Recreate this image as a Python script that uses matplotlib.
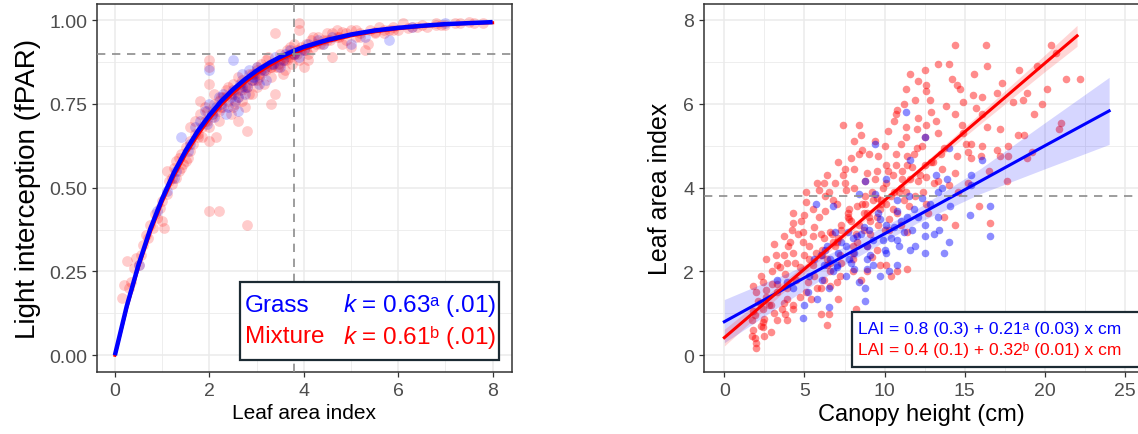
import matplotlib
matplotlib.use("Agg")
import matplotlib.pyplot as plt
from matplotlib.patches import Rectangle
from matplotlib.ticker import MultipleLocator, FormatStrFormatter

plt.rcParams['font.family'] = ['Liberation Sans', 'DejaVu Sans']
plt.rcParams['mathtext.fontset'] = 'custom'
plt.rcParams['mathtext.rm'] = 'Liberation Sans'
plt.rcParams['mathtext.it'] = 'Liberation Sans:italic'

# ---- left panel: light interception vs LAI ----
mix_lai = [0.15, 0.2, 0.25, 0.3, 0.35, 0.4, 0.45, 0.5, 0.55, 0.6, 0.65, 0.7, 0.75, 0.8, 0.85,
           0.9, 0.95, 1.0, 1.05, 1.0, 1.1, 1.1, 1.15, 1.2, 1.25, 1.3, 1.3, 1.35, 1.4, 1.45,
           1.5, 1.55, 1.6, 1.6, 1.65, 1.7, 1.75, 1.8, 1.8, 1.85, 1.9, 1.95, 2.0, 2.0, 2.0,
           2.0, 2.0, 2.0, 2.05, 2.1, 2.15, 2.2, 2.2, 2.25, 2.3, 2.35, 2.4, 2.45, 2.5, 2.5,
           2.55, 2.6, 2.6, 2.65, 2.7, 2.7, 2.75, 2.8, 2.8, 2.8, 2.85, 2.9, 2.95, 3.0, 3.0,
           3.05, 3.1, 3.15, 3.2, 3.25, 3.3, 3.3, 3.35, 3.4, 3.4, 3.45, 3.5, 3.55, 3.6, 3.65,
           3.7, 3.75, 3.8, 3.85, 3.9, 3.9, 3.9, 3.95, 4.0, 4.05, 4.1, 4.15, 4.2, 4.3, 4.4,
           4.5, 4.6, 4.6, 4.7, 4.8, 4.9, 5.0, 5.0, 5.1, 5.2, 5.3, 5.35, 5.4, 5.5, 5.6,
           5.7, 5.8, 5.9, 6.0, 6.1, 6.3, 6.5, 6.6, 6.8, 7.0, 7.2, 7.5, 7.6,
           2.1, 2.2, 2.3, 2.4, 2.5, 2.6, 2.75, 2.9, 3.0, 3.1, 3.2, 3.4, 3.5, 3.6, 3.7,
           3.8, 4.0, 4.2, 4.4, 4.5, 3.0, 3.3, 2.2, 1.9, 1.7, 1.5, 1.35, 4.7, 4.9, 5.1,
           5.7, 6.2, 6.8, 2.85, 3.55, 4.8, 4.1, 3.65, 3.75,
           1.2, 1.4, 1.6, 1.75, 1.85, 1.95, 2.05, 2.15, 2.25, 2.35, 2.45, 2.55, 2.65, 2.7,
           2.8, 2.9, 2.95, 3.05, 3.15, 3.2, 3.3, 3.45, 3.5, 3.6, 3.7, 3.8, 3.85, 3.95, 4.05,
           4.25, 4.35, 4.55, 4.75, 5.2, 5.5, 5.9, 6.4, 6.9, 7.3, 7.8]
mix_fpar = [0.17, 0.21, 0.28, 0.2, 0.22, 0.26, 0.29, 0.27, 0.3, 0.33, 0.36, 0.35, 0.39, 0.38, 0.42,
            0.41, 0.44, 0.46, 0.38, 0.4, 0.48, 0.55, 0.52, 0.51, 0.56, 0.53, 0.58, 0.55, 0.6, 0.57,
            0.62, 0.59, 0.64, 0.68, 0.63, 0.7, 0.66, 0.72, 0.76, 0.65, 0.7, 0.73, 0.64, 0.68, 0.81,
            0.86, 0.88, 0.43, 0.72, 0.75, 0.65, 0.43, 0.7, 0.77, 0.74, 0.79, 0.76, 0.72, 0.78, 0.81,
            0.75, 0.7, 0.83, 0.79, 0.76, 0.82, 0.74, 0.39, 0.67, 0.8, 0.84, 0.78, 0.82, 0.85, 0.8,
            0.83, 0.87, 0.81, 0.85, 0.89, 0.75, 0.83, 0.87, 0.78, 0.96, 0.86, 0.9, 0.88, 0.85, 0.91,
            0.89, 0.87, 0.93, 0.9, 0.99, 0.97, 0.88, 0.92, 0.86, 0.93, 0.9, 0.94, 0.92, 0.95, 0.93,
            0.94, 0.89, 0.96, 0.95, 0.93, 0.96, 0.92, 0.97, 0.95, 0.96, 0.91, 0.93, 0.97, 0.96, 0.98,
            0.96, 0.97, 0.98, 0.97, 0.99, 0.98, 0.985, 0.98, 0.99, 0.985, 0.99, 0.995, 0.99,
            0.78, 0.73, 0.77, 0.8, 0.74, 0.77, 0.8, 0.84, 0.82, 0.84, 0.88, 0.86, 0.87, 0.89, 0.92,
            0.9, 0.91, 0.95, 0.94, 0.96, 0.86, 0.86, 0.76, 0.74, 0.66, 0.58, 0.59, 0.97, 0.94, 0.97,
            0.97, 0.975, 0.985, 0.78, 0.84, 0.965, 0.88, 0.88, 0.9,
            0.53, 0.56, 0.61, 0.65, 0.68, 0.7, 0.71, 0.73, 0.74, 0.77, 0.78, 0.78, 0.8, 0.79,
            0.81, 0.82, 0.84, 0.84, 0.85, 0.86, 0.86, 0.87, 0.88, 0.88, 0.9, 0.9, 0.91, 0.91, 0.91,
            0.93, 0.93, 0.94, 0.95, 0.95, 0.965, 0.97, 0.98, 0.985, 0.99, 0.99]

grass_lai = [0.5, 0.9, 1.1, 1.3, 1.4, 1.55, 1.7, 1.8, 1.9, 2.0, 2.0, 2.1, 2.2, 2.3, 2.4, 2.5,
             2.5, 2.6, 2.65, 2.7, 2.8, 2.9, 3.0, 3.1, 3.2, 3.3, 3.4, 3.5, 3.6, 3.7, 3.9, 4.1,
             4.3, 4.6, 5.0, 5.3, 5.8, 6.3, 7.0, 2.35, 2.6, 1.95, 2.15, 2.55, 2.75, 2.85, 3.05,
             1.6, 2.05, 2.25, 2.45, 2.7, 2.95, 3.15, 3.35, 3.55, 3.8, 4.0, 4.4, 1.25, 2.9]
grass_fpar = [0.27, 0.43, 0.49, 0.55, 0.65, 0.61, 0.68, 0.7, 0.73, 0.85, 0.75, 0.71, 0.77, 0.78, 0.74, 0.88,
              0.79, 0.77, 0.81, 0.84, 0.8, 0.83, 0.86, 0.85, 0.82, 0.87, 0.89, 0.86, 0.9, 0.91, 0.89, 0.93,
              0.94, 0.95, 0.93, 0.95, 0.94, 0.98, 0.99, 0.72, 0.73, 0.69, 0.74, 0.76, 0.78, 0.85, 0.81,
              0.63, 0.72, 0.75, 0.77, 0.8, 0.83, 0.85, 0.87, 0.88, 0.9, 0.91, 0.93, 0.53, 0.82]

# fitted curves (k = 0.63 grass, k = 0.61 mixture)
fit_lai = [0, 0.25, 0.5, 0.75, 1.0, 1.25, 1.5, 1.75, 2.0, 2.25, 2.5, 2.75, 3.0, 3.25, 3.5,
           3.75, 4.0, 4.5, 5.0, 5.5, 6.0, 6.5, 7.0, 7.5, 8.0]
fit_grass = [0, 0.146, 0.270, 0.377, 0.467, 0.545, 0.611, 0.668, 0.716, 0.758, 0.793, 0.823,
             0.849, 0.871, 0.890, 0.906, 0.920, 0.941, 0.957, 0.969, 0.977, 0.983, 0.988, 0.991, 0.994]
fit_mix = [0, 0.141, 0.263, 0.367, 0.457, 0.534, 0.600, 0.656, 0.705, 0.747, 0.782, 0.813,
           0.840, 0.862, 0.882, 0.899, 0.913, 0.936, 0.953, 0.965, 0.974, 0.981, 0.986, 0.990, 0.992]

# ---- right panel: LAI vs canopy height ----
red_h = [14.4, 16.3, 20.4, 13.3, 14.0, 12.5, 11.6, 15.6, 12.1, 12.6, 11.3, 12.6, 14.5, 14.7, 18.4,
         20.1, 22.2, 18.9, 17.0, 15.5, 16.1, 11.9, 11.2, 13.8, 14.9, 19.8, 18.0, 19.3, 10.8, 10.7,
         12.1, 12.9, 14.4, 16.1, 7.4, 8.4, 10.2, 11.3, 12.6, 17.2, 16.4, 8.5, 12.5, 13.3, 14.9,
         18.3, 18.7, 21.0, 20.9, 15.1, 17.7, 15.4, 17.0, 16.1, 8.1, 10.0, 11.0, 12.0, 13.7, 8.4,
         9.0, 9.6, 10.7, 11.4, 14.5, 15.2, 15.4, 17.2, 17.7, 19.2, 18.9, 7.1, 7.5, 8.1, 8.9,
         9.5, 10.1, 10.7, 11.4, 12.5, 13.0, 13.6, 14.4, 16.5, 17.6, 6.4, 5.8, 6.2, 6.9, 7.5,
         8.1, 8.8, 9.4, 10.1, 11.1, 12.1, 12.6, 13.3, 14.0, 15.2, 5.1, 5.9, 6.5, 7.6, 8.8,
         9.5, 10.6, 11.3, 11.9, 14.6, 15.9, 5.1, 6.3, 7.0, 7.8, 8.3, 8.9, 9.7, 10.1, 10.8,
         11.5, 12.6, 13.7, 14.4, 16.6, 4.3, 5.0, 4.3, 4.9, 5.6, 6.0, 6.6, 7.3, 7.8, 8.4,
         9.1, 10.0, 10.3, 11.4, 3.7, 4.1, 4.9, 5.5, 6.2, 6.9, 8.0, 8.9, 9.5, 3.1, 2.6,
         3.7, 4.3, 5.0, 5.7, 6.4, 7.2, 8.0, 9.2, 10.1, 10.8, 11.4, 3.3, 3.9, 4.7, 5.5,
         6.4, 7.2, 8.0, 8.9, 9.7, 10.4, 2.3, 3.0, 3.8, 4.5, 5.2, 6.2, 7.0, 8.5, 1.8,
         2.4, 3.3, 3.9, 5.1, 5.8, 6.6, 2.0, 2.6, 3.3, 3.9, 4.7, 5.4, 2.2, 2.9, 3.7,
         4.3, 7.1, 1.8, 2.4, 3.1, 3.8, 4.3, 6.0, 6.5, 8.2, 1.75, 2.4, 3.3, 3.9, 6.4,
         1.8, 2.4, 2.9, 1.9, 2.0, 2.0, 2.5, 1.7, 2.5, 16.0,
         7.7, 8.6, 9.2, 9.9, 10.5, 11.1, 11.8, 12.3, 6.8, 7.3, 9.0, 9.8, 10.9, 11.6, 12.9,
         6.1, 6.7, 7.9, 8.7, 9.3, 10.4, 11.0, 12.2, 5.3, 7.0, 8.2, 9.6, 10.5, 13.1,
         1.9, 2.1, 2.3, 2.6, 2.8, 3.0, 3.2, 3.5, 3.6, 4.0, 4.2, 4.4, 4.6, 4.8, 5.3,
         5.5, 5.9, 6.1, 6.3, 6.6, 6.8, 7.1, 7.4, 7.7, 7.9, 8.3, 8.6, 8.8, 9.1, 9.4,
         9.8, 10.2, 10.6, 11.0, 11.3, 11.7, 12.0, 12.4, 12.8, 13.2, 13.5, 14.2, 14.8, 15.7, 16.4,
         17.3, 18.6, 19.5, 20.7, 21.3, 5.6, 6.0, 6.6, 7.3, 8.0, 8.7, 9.5, 10.3, 11.2, 12.7]
red_lai = [7.4, 7.4, 7.4, 6.95, 6.95, 6.8, 6.7, 6.7, 6.55, 6.45, 6.35, 6.3, 6.45, 6.35, 6.8,
           6.35, 6.6, 6.25, 6.25, 6.2, 6.15, 6.1, 6.0, 5.95, 6.05, 6.0, 6.05, 5.75, 5.85, 5.75,
           5.65, 5.8, 5.75, 5.75, 5.5, 5.5, 5.35, 5.45, 5.5, 5.4, 5.45, 5.25, 5.2, 5.3, 5.3,
           5.25, 5.25, 5.55, 5.4, 5.05, 5.0, 5.05, 4.9, 5.0, 5.1, 5.0, 5.05, 4.95, 4.95, 4.8,
           4.8, 4.75, 4.8, 4.75, 4.75, 4.85, 4.7, 4.75, 4.75, 4.85, 4.7, 4.6, 4.45, 4.45, 4.35,
           4.4, 4.55, 4.55, 4.55, 4.55, 4.6, 4.45, 4.35, 4.4, 4.15, 4.3, 4.1, 4.1, 4.1, 4.1,
           4.0, 4.15, 4.2, 4.1, 4.2, 4.15, 4.25, 4.15, 4.05, 4.1, 3.9, 3.95, 3.9, 3.95, 3.8,
           3.75, 3.9, 3.9, 3.8, 3.9, 3.55, 3.65, 3.45, 3.6, 3.5, 3.55, 3.4, 3.5, 3.6, 3.4,
           3.55, 3.6, 3.3, 3.1, 3.15, 3.4, 3.35, 3.15, 2.95, 3.05, 2.9, 2.95, 3.0, 3.25, 3.1,
           3.2, 3.0, 3.25, 2.95, 2.85, 2.7, 2.7, 2.85, 2.8, 2.6, 2.6, 2.6, 2.5, 2.65, 2.3,
           2.4, 2.45, 2.4, 2.45, 2.3, 2.4, 2.3, 2.35, 2.15, 2.0, 2.05, 2.15, 2.2, 2.1, 2.15,
           2.15, 1.9, 2.0, 2.0, 2.15, 1.9, 1.9, 2.0, 1.95, 1.8, 1.75, 1.8, 1.75, 1.8, 1.65,
           1.75, 1.7, 1.6, 1.5, 1.6, 1.65, 1.5, 1.4, 1.5, 1.35, 1.4, 1.35, 1.25, 1.2, 1.25,
           1.2, 1.35, 1.05, 1.1, 1.0, 0.98, 1.1, 0.98, 0.98, 1.1, 0.83, 0.8, 0.83, 0.83, 0.72,
           0.6, 0.67, 0.55, 0.4, 0.3, 0.17, 0.47, 0.47, 0.87, 4.75,
           3.3, 3.6, 3.9, 4.0, 4.3, 4.4, 4.8, 5.0, 2.7, 3.1, 3.3, 3.6, 3.9, 4.2, 4.6,
           2.5, 2.9, 3.2, 3.4, 3.7, 3.8, 4.0, 4.3, 2.3, 2.7, 2.9, 3.1, 3.5, 4.1,
           0.95, 1.3, 0.7, 1.55, 1.2, 1.7, 2.4, 2.1, 1.1, 2.6, 3.0, 2.2, 2.9, 3.2, 2.6,
           3.5, 3.3, 2.4, 3.8, 2.2, 3.7, 2.8, 4.3, 3.4, 4.7, 2.7, 4.9, 3.6, 2.9, 5.1,
           3.7, 4.4, 5.6, 3.1, 5.2, 4.5, 5.4, 3.9, 6.1, 5.6, 4.8, 6.6, 5.5, 5.9, 6.9,
           6.5, 6.1, 6.9, 7.2, 6.6, 1.9, 1.6, 2.0, 2.2, 2.45, 3.0, 3.3, 3.0, 3.7, 3.4]

blue_h = [11.3, 9.4, 12.5, 14.0, 11.6, 16.1, 8.8, 10.1, 13.2, 13.9, 15.4, 13.6, 5.7, 6.8, 8.4,
          9.4, 10.8, 11.5, 12.3, 13.3, 14.1, 15.4, 15.3, 16.6, 16.6, 13.3, 13.4, 12.5, 12.5, 11.9,
          11.6, 12.5, 13.7, 14.0, 11.2, 10.6, 10.1, 9.9, 10.1, 10.8, 10.3, 9.7, 8.9, 8.9, 8.3,
          8.1, 7.6, 7.1, 6.9, 6.4, 6.2, 6.8, 7.6, 8.4, 8.8, 8.8, 6.5, 5.8, 5.0, 4.9,
          6.5, 5.6, 7.8, 8.9, 9.3, 9.7, 10.8, 11.4, 11.8, 10.8, 7.7, 8.7, 5.2, 4.3, 3.9,
          3.3, 7.0, 6.0, 9.3, 8.1,
          5.3, 6.1, 6.6, 7.3, 7.9, 8.5, 9.1, 9.6, 10.4, 10.9, 11.7, 12.1, 12.8, 13.1, 7.0,
          8.0, 9.0, 10.0, 11.0, 6.3]
blue_lai = [5.8, 5.05, 5.2, 4.95, 4.65, 4.65, 4.15, 4.2, 4.3, 4.2, 4.3, 4.0, 3.6, 3.55, 3.85,
            3.85, 3.7, 3.8, 3.75, 3.9, 3.55, 4.05, 3.35, 3.55, 2.85, 3.3, 3.0, 3.1, 2.85, 2.6,
            2.5, 2.45, 2.45, 2.7, 2.95, 3.05, 3.1, 2.75, 2.45, 2.15, 2.0, 1.9, 2.3, 2.6, 2.85,
            2.45, 2.6, 2.45, 2.95, 2.6, 2.15, 2.0, 1.9, 1.75, 1.6, 1.3, 1.6, 1.35, 1.2, 0.9,
            1.15, 2.3, 2.3, 2.05, 2.75, 3.25, 2.75, 3.3, 3.5, 3.45, 2.95, 3.05, 1.5, 1.6, 1.75,
            1.8, 2.15, 2.4, 2.15, 2.05,
            1.9, 1.8, 2.3, 2.7, 2.2, 2.9, 2.4, 3.4, 2.8, 2.6, 3.0, 3.3, 3.6, 2.9, 2.1,
            2.8, 3.0, 2.5, 3.2, 2.5]

# regression lines and 95% bands
blue_fit_h = [0, 4, 8, 12, 16, 20, 24]
blue_fit = [0.80, 1.64, 2.48, 3.32, 4.16, 5.0, 5.83]
blue_lo = [0.30, 1.31, 2.28, 3.15, 3.86, 4.45, 5.03]
blue_hi = [1.33, 1.97, 2.68, 3.49, 4.46, 5.55, 6.63]
red_fit_h = [0, 4, 8, 12, 16, 20, 22]
red_fit = [0.42, 1.73, 3.04, 4.35, 5.66, 6.97, 7.62]
red_lo = [0.22, 1.61, 2.96, 4.27, 5.53, 6.77, 7.37]
red_hi = [0.62, 1.85, 3.12, 4.43, 5.79, 7.17, 7.87]

BLUE = '#0000FF'
RED = '#FF0000'
GRID = '#EBEBEB'


def style_axes(ax):
    ax.set_facecolor('white')
    ax.grid(True, which='major', color=GRID, lw=1.1, zorder=0)
    ax.grid(True, which='minor', color=GRID, lw=0.6, zorder=0)
    ax.set_axisbelow(True)
    for s in ax.spines.values():
        s.set_color('#333333')
        s.set_linewidth(1.1)
    ax.tick_params(which='major', length=3.5, width=0.9, color='#333333',
                   labelsize=14, labelcolor='#4D4D4D')
    ax.tick_params(which='minor', length=0)


fig = plt.figure(figsize=(11.38, 4.35), dpi=100)

# left panel
ax1 = fig.add_axes([0.0852, 0.1425, 0.3647, 0.846])
style_axes(ax1)
ax1.scatter(mix_lai, mix_fpar, s=60, color=RED, alpha=0.2, linewidths=0, zorder=2)
ax1.scatter(grass_lai, grass_fpar, s=60, color=BLUE, alpha=0.2, linewidths=0, zorder=2)
ax1.plot(fit_lai, fit_mix, color=RED, lw=2.2, zorder=3)
ax1.plot(fit_lai, fit_grass, color=BLUE, lw=3.2, solid_capstyle='butt', zorder=4)
ax1.axhline(0.9, color='#8C8C8C', lw=1.2, ls=(0, (5, 4)), zorder=5)
ax1.axvline(3.8, color='#8C8C8C', lw=1.2, ls=(0, (5, 4)), zorder=5)
ax1.set_xlim(-0.38, 8.41)
ax1.set_ylim(-0.05, 1.048)
ax1.xaxis.set_major_locator(MultipleLocator(2))
ax1.xaxis.set_minor_locator(MultipleLocator(1))
ax1.yaxis.set_major_locator(MultipleLocator(0.25))
ax1.yaxis.set_minor_locator(MultipleLocator(0.125))
ax1.yaxis.set_major_formatter(FormatStrFormatter('%.2f'))
ax1.set_xlabel('Leaf area index', fontsize=15, labelpad=3)
ax1.set_ylabel('Light interception (fPAR)', fontsize=20, labelpad=6)

ax1.add_patch(Rectangle((0.345, 0.033), 0.624, 0.212, transform=ax1.transAxes,
                        facecolor='white', edgecolor='#1C2B33', lw=1.6, zorder=6))
ax1.text(0.357, 0.183, 'Grass', transform=ax1.transAxes, color=BLUE, fontsize=17.5,
         va='center', ha='left', zorder=7)
ax1.text(0.962, 0.183, r'$\mathit{k}$ = 0.63ᵃ (.01)', transform=ax1.transAxes,
         color=BLUE, fontsize=17.5, va='center', ha='right', zorder=7)
ax1.text(0.357, 0.097, 'Mixture', transform=ax1.transAxes, color=RED, fontsize=17.5,
         va='center', ha='left', zorder=7)
ax1.text(0.962, 0.097, r'$\mathit{k}$ = 0.61ᵇ (.01)', transform=ax1.transAxes,
         color=RED, fontsize=17.5, va='center', ha='right', zorder=7)

# right panel
ax2 = fig.add_axes([0.6186, 0.1425, 0.3814, 0.846])
style_axes(ax2)
ax2.scatter(red_h, red_lai, s=30, color=RED, alpha=0.45, linewidths=0, zorder=2)
ax2.scatter(blue_h, blue_lai, s=30, color=BLUE, alpha=0.45, linewidths=0, zorder=2)
ax2.fill_between(blue_fit_h, blue_lo, blue_hi, color=BLUE, alpha=0.16, lw=0, zorder=3)
ax2.fill_between(red_fit_h, red_lo, red_hi, color=RED, alpha=0.16, lw=0, zorder=3)
ax2.plot(blue_fit_h, blue_fit, color=BLUE, lw=2.2, zorder=4)
ax2.plot(red_fit_h, red_fit, color=RED, lw=2.2, zorder=4)
ax2.axhline(3.8, color='#8C8C8C', lw=1.2, ls=(0, (5, 4)), zorder=5)
ax2.set_xlim(-1.27, 25.8)
ax2.set_ylim(-0.4, 8.38)
ax2.xaxis.set_major_locator(MultipleLocator(5))
ax2.xaxis.set_minor_locator(MultipleLocator(2.5))
ax2.yaxis.set_major_locator(MultipleLocator(2))
ax2.yaxis.set_minor_locator(MultipleLocator(1))
ax2.spines['right'].set_visible(False)
ax2.set_xlabel('Canopy height (cm)', fontsize=17, labelpad=3)
ax2.set_ylabel('Leaf area index', fontsize=18, labelpad=8)

ax2.add_patch(Rectangle((0.341, 0.014), 0.70, 0.149, transform=ax2.transAxes,
                        facecolor='white', edgecolor='#1C2B33', lw=1.6, zorder=6,
                        clip_on=False))
ax2.text(0.356, 0.118, 'LAI = 0.8 (0.3) + 0.21ᵃ (0.03) x cm',
         transform=ax2.transAxes, color=BLUE, fontsize=12.5, va='center', ha='left', zorder=7)
ax2.text(0.356, 0.062, 'LAI = 0.4 (0.1) + 0.32ᵇ (0.01) x cm',
         transform=ax2.transAxes, color=RED, fontsize=12.5, va='center', ha='left', zorder=7)

fig.savefig('out.png', dpi=100)
